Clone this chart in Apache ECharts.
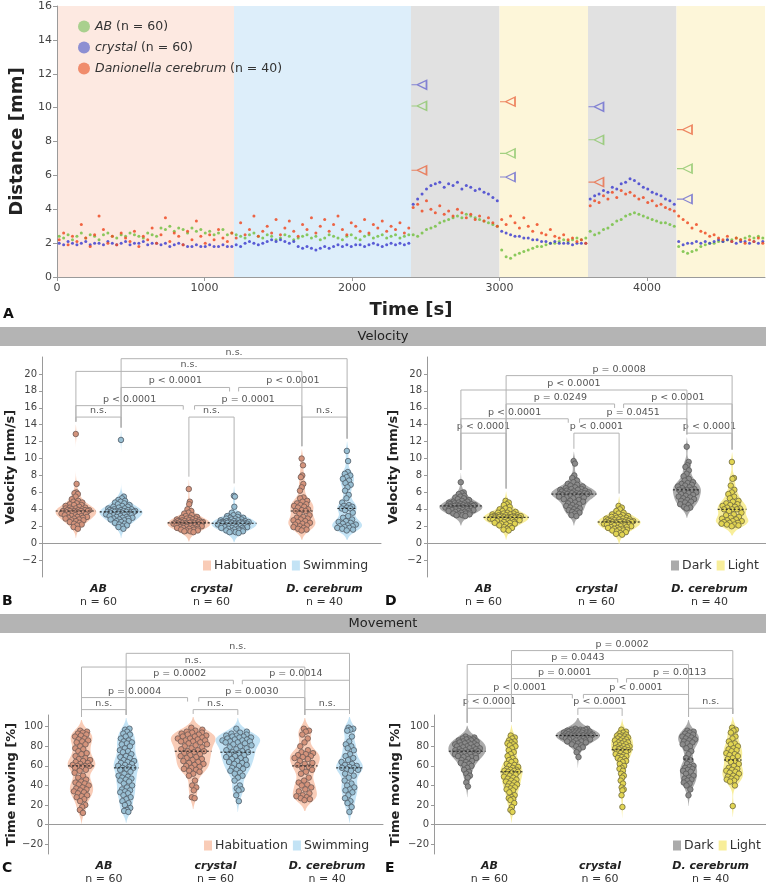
<!DOCTYPE html>
<html><head><meta charset="utf-8">
<script src="https://cdn.jsdelivr.net/npm/echarts@6.0.0/dist/echarts.min.js"></script>
<style>html,body{margin:0;padding:0;background:#fff;}#chart{width:766px;height:885px;}</style>
</head><body><div id="chart"></div>
<script>
// ================= DATA =================
// Panel A: mean distance per 30 s bin
const timeStep = 30;
const distAB = [
2.4,2.3,2.5,2.2,2.4,2.6,2.3,2.5,2.4,2.2, 2.5,2.6,2.4,2.3,2.5,2.4,2.6,2.5,2.4,2.3, 2.6,2.5,2.4,2.9,2.8,3.0,2.7,2.9,2.8,2.6, 2.9,2.7,2.8,2.6,2.7,2.5,2.6,2.8,2.5,2.6,
2.5,2.4,2.3,2.5,2.6,2.4,2.3,2.5,2.4,2.2, 2.3,2.5,2.4,2.2,2.3,2.4,2.5,2.3,2.4,2.2, 2.3,2.5,2.4,2.3,2.2,2.4,2.5,2.3,2.2,2.4, 2.5,2.3,2.4,2.5,2.3,2.4,2.5,2.3,2.4,2.5,
2.5,2.4,2.6,2.8,2.9,3.0,3.2,3.3,3.4,3.5, 3.6,3.5,3.7,3.6,3.5,3.4,3.3,3.2,3.1,3.0,
1.6,1.2,1.1,1.3,1.4,1.5,1.6,1.7,1.8,1.8, 1.9,2.0,2.0,2.1,2.2,2.1,2.2,2.3,2.2,2.3,
2.7,2.5,2.6,2.8,2.9,3.1,3.3,3.4,3.6,3.7, 3.8,3.7,3.6,3.5,3.4,3.3,3.2,3.2,3.1,3.0,
1.8,1.5,1.4,1.5,1.6,1.8,1.9,2.0,2.0,2.1, 2.1,2.2,2.2,2.3,2.2,2.3,2.4,2.3,2.4,2.3];
const distCrystal = [
2.0,1.9,2.1,2.0,1.9,2.0,2.1,1.9,2.0,2.0, 1.9,2.1,2.0,1.9,2.0,2.1,1.9,2.0,2.0,2.1, 1.9,2.0,2.0,1.9,2.0,1.8,1.9,2.0,1.9,1.8, 1.8,1.9,1.8,1.8,1.9,1.8,1.8,1.9,1.8,1.8,
1.9,1.8,2.0,2.1,2.0,1.9,2.0,2.1,2.2,2.1, 2.2,2.1,2.0,2.1,1.8,1.7,1.8,1.7,1.6,1.7, 1.8,1.7,1.8,1.9,1.8,1.9,1.8,1.9,1.9,1.8, 1.9,2.0,1.9,1.8,1.9,2.0,1.9,2.0,1.9,2.0,
4.3,4.6,4.9,5.2,5.4,5.5,5.6,5.3,5.5,5.4, 5.6,5.2,5.4,5.3,5.1,5.2,5.0,4.9,4.7,4.5,
2.7,2.6,2.5,2.4,2.4,2.3,2.3,2.2,2.2,2.1, 2.1,2.0,2.1,2.0,2.0,2.0,1.9,2.0,2.0,2.0,
4.6,4.8,4.9,5.1,5.0,5.3,5.2,5.5,5.6,5.8, 5.7,5.5,5.3,5.2,5.0,4.9,4.8,4.6,4.5,4.3,
2.1,1.9,2.0,2.0,2.1,2.0,2.1,2.0,2.1,2.2, 2.1,2.2,2.1,2.0,2.1,2.1,2.0,2.1,2.0,2.1];
const distDc = [
2.2,2.6,1.9,2.4,2.1,3.1,2.3,1.8,2.5,3.6, 2.8,2.0,2.4,1.9,2.6,2.3,2.1,2.7,1.8,2.4, 2.2,2.9,2.0,2.5,3.5,2.1,2.6,2.4,1.9,2.7, 2.2,3.3,2.4,2.0,2.5,2.2,2.8,2.3,2.1,2.6,
2.3,3.2,2.5,2.8,3.6,2.4,2.7,3.0,2.6,3.4, 2.5,2.9,3.3,2.7,2.4,3.1,2.8,3.5,2.6,3.0, 3.4,2.7,3.1,3.6,2.8,2.5,3.2,3.0,2.7,3.4, 2.6,3.1,2.9,3.3,2.7,3.0,2.8,3.2,2.6,2.9,
4.1,4.3,3.9,4.5,4.0,3.8,4.2,3.7,3.9,3.6, 4.0,3.8,3.5,3.7,3.4,3.6,3.3,3.5,3.2,3.0,
3.4,3.1,3.6,3.2,2.9,3.5,3.0,2.7,3.1,2.6, 2.5,2.8,2.4,2.3,2.5,2.2,2.3,2.1,2.2,2.0,
4.2,4.5,4.4,4.8,4.6,5.0,4.7,5.1,4.9,5.0, 4.8,4.6,4.7,4.4,4.5,4.2,4.3,4.1,4.0,3.9,
3.6,3.4,3.2,2.9,3.1,2.7,2.6,2.4,2.5,2.3, 2.2,2.4,2.1,2.3,2.2,2.0,2.2,2.1,2.3,2.0];
const phaseEdges = [0,1200,2400,3000,3600,4200,4800];
const stimTimes = [2400,3000,3600,4200];
const stimAB = [10.1,7.3,8.1,6.4];
const stimCrystal = [11.35,5.9,10.05,4.6];
const stimDc = [6.3,10.35,5.6,8.7];
const seriesNamesA = ['AB','crystal','Danionella cerebrum'];
const seriesNA = [60,60,40];

// Panels B-E
const categories = ['AB','crystal','D. cerebrum'];
const groupN = [60,60,40];

// Velocity [mm/s], habituation vs swimming
const velHabAB = [12.9,7.0,6.0,5.9,5.8,5.5,5.2,5.0,4.9,4.8,4.7,4.6,4.5,4.5,4.4,4.3,4.2,4.2,4.1,4.1,4.0,4.0,3.9,3.9,3.9,3.9,3.8,3.8,3.8,3.8,3.8,3.7,3.7,3.6,3.6,3.5,3.5,3.4,3.4,3.3,3.3,3.2,3.2,3.1,3.1,3.0,3.0,2.9,2.9,2.8,2.7,2.7,2.6,2.5,2.4,2.3,2.2,2.1,1.9,1.7];
const velSwimAB = [12.2,5.5,5.3,5.1,5.0,4.9,4.8,4.7,4.6,4.5,4.4,4.3,4.3,4.2,4.1,4.1,4.0,4.0,3.9,3.9,3.9,3.8,3.8,3.8,3.8,3.7,3.7,3.7,3.7,3.7,3.7,3.6,3.6,3.5,3.5,3.4,3.4,3.3,3.3,3.2,3.2,3.1,3.1,3.0,3.0,2.9,2.9,2.8,2.8,2.7,2.6,2.6,2.5,2.4,2.3,2.2,2.1,2.0,1.9,1.7];
const velHabCrystal = [6.4,4.9,4.6,4.0,3.8,3.6,3.5,3.3,3.2,3.1,3.0,3.0,2.9,2.9,2.8,2.8,2.7,2.7,2.7,2.6,2.6,2.6,2.5,2.5,2.5,2.5,2.4,2.4,2.4,2.4,2.4,2.4,2.3,2.3,2.3,2.3,2.2,2.2,2.2,2.1,2.1,2.1,2.0,2.0,2.0,1.9,1.9,1.9,1.8,1.8,1.8,1.7,1.7,1.6,1.6,1.5,1.5,1.4,1.4,1.3];
const velSwimCrystal = [5.6,5.5,4.3,3.6,3.4,3.3,3.2,3.1,3.0,3.0,2.9,2.9,2.8,2.8,2.7,2.7,2.6,2.6,2.6,2.5,2.5,2.5,2.5,2.4,2.4,2.4,2.4,2.4,2.4,2.4,2.3,2.3,2.3,2.3,2.2,2.2,2.2,2.1,2.1,2.1,2.0,2.0,2.0,1.9,1.9,1.9,1.8,1.8,1.8,1.7,1.7,1.6,1.6,1.5,1.5,1.4,1.4,1.3,1.3,1.2];
const velHabDc = [10.0,9.2,8.0,7.8,7.0,6.6,6.2,5.4,5.3,5.0,4.9,4.7,4.6,4.5,4.4,4.3,4.2,4.0,3.9,3.8,3.8,3.5,3.3,3.1,3.0,2.9,2.8,2.7,2.6,2.5,2.4,2.3,2.2,2.1,2.0,1.9,1.8,1.7,1.6,1.5];
const velSwimDc = [10.9,9.7,8.4,8.2,8.0,7.8,7.6,7.4,7.1,6.9,6.6,6.2,5.7,5.3,4.8,4.5,4.4,4.3,4.2,4.1,4.1,3.9,3.6,3.2,3.0,2.8,2.6,2.5,2.4,2.3,2.2,2.1,2.0,2.0,1.9,1.8,1.8,1.7,1.6,1.5];

// Velocity [mm/s], dark vs light
const velDarkAB = [7.2,6.0,5.9,5.8,5.6,5.5,5.4,5.3,5.2,5.1,5.0,4.9,4.9,4.8,4.8,4.7,4.7,4.6,4.6,4.6,4.5,4.5,4.5,4.5,4.4,4.4,4.4,4.4,4.4,4.4,4.4,4.3,4.3,4.3,4.2,4.2,4.2,4.1,4.1,4.1,4.0,4.0,4.0,3.9,3.9,3.9,3.8,3.8,3.8,3.7,3.7,3.6,3.6,3.5,3.5,3.4,3.4,3.3,3.3,3.2];
const velLightAB = [5.0,4.8,4.6,4.5,4.3,4.1,4.0,3.9,3.8,3.7,3.6,3.6,3.5,3.5,3.4,3.4,3.3,3.3,3.3,3.2,3.2,3.2,3.2,3.1,3.1,3.1,3.1,3.1,3.1,3.1,3.0,3.0,3.0,3.0,2.9,2.9,2.9,2.9,2.8,2.8,2.8,2.7,2.7,2.7,2.6,2.6,2.5,2.5,2.4,2.4,2.3,2.3,2.2,2.1,2.0,1.9,1.8,1.7,1.6,1.5];
const velDarkCrystal = [9.7,9.4,8.0,7.7,7.4,7.2,7.0,6.9,6.8,6.7,6.6,6.5,6.4,6.4,6.3,6.3,6.2,6.2,6.1,6.1,6.0,6.0,6.0,5.9,5.9,5.9,5.9,5.8,5.8,5.8,5.8,5.7,5.7,5.6,5.6,5.5,5.5,5.4,5.4,5.3,5.2,5.1,5.0,4.9,4.8,4.7,4.6,4.5,4.4,4.3,4.2,4.1,4.0,3.9,3.8,3.7,3.6,3.5,3.3,3.2];
const velLightCrystal = [4.4,4.2,4.0,3.8,3.6,3.5,3.4,3.3,3.2,3.2,3.1,3.1,3.0,3.0,2.9,2.9,2.8,2.8,2.8,2.7,2.7,2.7,2.6,2.6,2.6,2.6,2.5,2.5,2.5,2.5,2.5,2.5,2.4,2.4,2.4,2.3,2.3,2.3,2.2,2.2,2.2,2.1,2.1,2.0,2.0,1.9,1.9,1.8,1.8,1.7,1.7,1.6,1.6,1.5,1.5,1.4,1.3,1.2,1.1,1.0];
const velDarkDc = [11.4,9.6,9.2,9.0,8.6,8.2,7.9,7.6,7.4,7.2,7.1,7.0,6.9,6.8,6.7,6.6,6.5,6.4,6.3,6.3,6.3,6.2,6.0,5.9,5.8,5.7,5.6,5.5,5.4,5.3,5.2,5.1,5.0,4.9,4.8,4.6,4.5,4.3,4.2,4.1];
const velLightDc = [9.6,7.7,7.6,6.8,6.3,6.0,5.8,5.5,5.3,5.0,4.9,4.7,4.6,4.5,4.4,4.3,4.2,4.1,4.0,4.0,4.0,3.8,3.6,3.4,3.3,3.1,3.0,2.9,2.8,2.7,2.6,2.6,2.5,2.4,2.4,2.3,2.2,2.2,2.1,2.0];

// Time moving [%], habituation vs swimming
const movHabAB = [96,95,94,93,92,91,90,88,87,86,85,84,82,80,78,77,75,73,72,70,68,67,66,65,64,63,62,61,60,60,60,59,58,56,55,53,50,48,46,44,43,42,41,40,38,37,36,35,34,33,32,30,29,28,26,24,20,18,15,12];
const movSwimAB = [97,98,95,93,92,90,88,86,85,84,83,82,80,78,76,75,74,72,70,69,68,66,65,64,63,62,61,60,59,58,58,57,56,54,52,50,49,48,47,46,45,44,42,40,38,36,35,34,33,32,30,28,26,24,22,20,17,15,14,13];
const movHabCrystal = [99,97,96,95,94,94,93,92,92,91,90,90,89,88,88,87,86,86,85,85,84,83,82,81,80,79,78,77,76,75,75,74,73,72,71,70,69,68,67,66,65,64,63,62,61,60,59,58,57,56,55,54,52,50,45,40,38,35,28,27];
const movSwimCrystal = [98,95,94,93,92,91,91,90,90,89,89,88,87,87,86,86,85,85,84,84,83,82,81,80,79,78,77,76,75,74,74,73,72,71,70,69,68,67,66,65,64,63,62,61,60,58,57,56,55,53,52,50,48,45,40,37,36,35,30,24];
const movHabDc = [98,96,95,92,88,84,80,76,74,73,72,71,70,69,68,67,65,63,62,61,59,58,56,54,52,48,45,43,41,40,38,36,34,32,30,29,28,27,26,25];
const movSwimDc = [99,98,97,96,90,85,82,80,78,76,72,70,68,66,64,62,61,60,59,58,58,57,56,55,52,50,48,45,42,40,38,36,35,33,30,27,24,22,18,13];

// Time moving [%], dark vs light
const movDarkAB = [90,89,88,88,87,87,86,86,85,85,84,84,83,83,82,82,81,81,80,80,79,79,78,78,77,77,76,76,75,75,75,74,74,73,73,72,72,71,71,70,70,69,69,68,67,66,65,64,63,62,61,60,58,56,54,52,50,48,43,39];
const movLightAB = [91,89,88,86,85,84,83,82,81,80,78,76,74,72,70,68,66,65,64,62,61,60,59,58,57,56,56,55,55,54,54,53,52,51,50,49,48,47,46,45,44,43,42,41,40,39,38,37,36,35,33,30,28,27,26,25,22,18,15,13];
const movDarkCrystal = [98,98,97,97,97,96,96,96,95,95,95,95,94,94,94,94,93,93,93,93,92,92,92,92,92,91,91,91,91,91,91,91,90,90,90,90,89,89,89,89,88,88,88,87,87,87,86,86,85,85,84,84,83,82,81,80,79,77,74,69];
const movLightCrystal = [97,95,94,93,92,91,91,90,90,89,88,88,87,86,86,85,84,84,83,82,82,81,80,80,79,79,78,78,77,77,76,75,75,74,73,72,71,70,70,69,68,67,66,65,64,62,60,58,57,55,52,50,48,45,42,38,36,35,30,18];
const movDarkDc = [96,95,94,93,92,91,90,89,88,87,86,85,84,83,82,80,78,75,72,68,66,62,60,59,58,57,56,55,54,52,50,48,47,46,45,43,42,40,36,30];
const movLightDc = [99,97,96,94,90,88,85,83,82,80,78,77,76,75,73,72,71,70,68,67,65,64,62,60,58,57,56,55,54,53,52,50,49,48,47,46,45,44,40,19];

// p-values (order: AB, crystal, D.c. within-genotype; then between-genotype comparisons)
const pVelHabSwim = ['n.s.','n.s.','n.s.','p < 0.0001','p = 0.0001','p < 0.0001','p < 0.0001','n.s.','n.s.'];
const pVelDarkLight = ['p < 0.0001','p < 0.0001','p < 0.0001','p < 0.0001','p = 0.0451','p = 0.0249','p < 0.0001','p < 0.0001','p = 0.0008'];
const pMovHabSwim = ['n.s.','n.s.','n.s.','p = 0.0004','p = 0.0030','p = 0.0002','p = 0.0014','n.s.','n.s.'];
const pMovDarkLight = ['p < 0.0001','p < 0.0001','n.s.','p < 0.0001','p < 0.0001','p = 0.0001','p = 0.0113','p = 0.0443','p = 0.0002'];

// ================= LAYOUT / STYLE =================
const FONT = 'DejaVu Sans';
const AX = '#9a9a9a';
const phaseColors = ['#fde9e1','#ddeefa','#e1e1e1','#fdf6d9','#e1e1e1','#fdf6d9'];
const colA = ['#76c144','#4141cf','#ee4b24'];
const colALegend = ['#a9d08e','#8d8fd2','#f08c6c'];
const colAStim = ['#8cc76a','#6a6ad0','#ea6a44'];
const STY = {
  Habituation:{fill:'#f9ccb7', dot:'#d4937b', border:'#6e5a55'},
  Swimming:{fill:'#c3e3f5', dot:'#98bfd3', border:'#4f5b66'},
  Dark:{fill:'#ababab', dot:'#8a8a8a', border:'#595959'},
  Light:{fill:'#f8ee9a', dot:'#e2d552', border:'#6f6840'}
};
const bracketPairs = [[0,1],[2,3],[4,5],[0,2],[2,4],[1,3],[3,5],[0,4],[1,5]];
const bracketLevelIdx = [0,0,0,1,1,2,2,3,4];
const bracketShift = [[0,0],[0,0],[0,0],[0,-0.05],[0.05,0],[0,-0.04],[0.04,0],[0,0],[0,0]];
const MAXHALF = 0.2; // max half-width of a violin (x units)

// relative violin widths as drawn (slot order: AB c0, AB c1, crystal c0, crystal c1, D.c. c0, D.c. c1)
const panels = [
  {grid:{left:42,top:357,width:339,height:220}, ymin:-4, ymax:22, ticks:[-2,0,2,4,6,8,10,12,14,16,18,20],
   yname:'Velocity [mm/s]', nameGap:25, levels:[14.9,16.25,18.4,20.3,21.8], pvals:pVelHabSwim, bw:0.55,
   widths:[0.9,0.95,0.95,1.0,0.6,0.66],
   conds:[{name:'Habituation', groups:[velHabAB,velHabCrystal,velHabDc]},{name:'Swimming', groups:[velSwimAB,velSwimCrystal,velSwimDc]}],
   legendPos:{left:198, top:554}},
  {grid:{left:427,top:357,width:339,height:220}, ymin:-4, ymax:22, ticks:[-2,0,2,4,6,8,10,12,14,16,18,20],
   yname:'Velocity [mm/s]', nameGap:27, levels:[13.0,14.7,16.45,18.1,19.8], pvals:pVelDarkLight, bw:0.55,
   widths:[0.95,1.0,1.0,0.95,0.62,0.72],
   conds:[{name:'Dark', groups:[velDarkAB,velDarkCrystal,velDarkDc]},{name:'Light', groups:[velLightAB,velLightCrystal,velLightDc]}],
   legendPos:{left:666, top:554}},
  {grid:{left:48,top:715,width:335,height:141}, ymin:-30, ymax:112, ticks:[-20,0,20,40,60,80,100],
   yname:'Time moving [%]', nameGap:30, levels:[117.5,129.8,147.5,161,175], pvals:pMovHabSwim, bw:5.5,
   widths:[0.62,0.56,1.0,1.0,0.67,0.6],
   conds:[{name:'Habituation', groups:[movHabAB,movHabCrystal,movHabDc]},{name:'Swimming', groups:[movSwimAB,movSwimCrystal,movSwimDc]}],
   legendPos:{left:199, top:834}},
  {grid:{left:434,top:715,width:332,height:141}, ymin:-30, ymax:112, ticks:[-20,0,20,40,60,80,100],
   yname:'Time moving [%]', nameGap:32, levels:[118.9,133,149.2,163.6,177.8], pvals:pMovDarkLight, bw:5.5,
   widths:[0.85,0.5,1.0,0.5,0.47,0.47],
   conds:[{name:'Dark', groups:[movDarkAB,movDarkCrystal,movDarkDc]},{name:'Light', groups:[movLightAB,movLightCrystal,movLightDc]}],
   legendPos:{left:668, top:834}}
];

// ================= HELPERS =================
function violinStats(vals, bw){
  const n = vals.length;
  const so=[...vals].sort((a,b)=>a-b);
  const lo = so[0]-2*bw, hi = so[n-1]+2*bw;
  const ys=[], ds=[], M=160;
  for(let i=0;i<=M;i++){
    const y = lo+(hi-lo)*i/M; let s=0;
    for(const v of vals){const z=(y-v)/bw; s+=Math.exp(-0.5*z*z);}
    ys.push(y); ds.push(s);
  }
  const mx = Math.max(...ds);
  const med = n%2 ? so[(n-1)/2] : (so[n/2-1]+so[n/2])/2;
  return {ys, ds:ds.map(d=>d/mx), lo, hi, med};
}
function densAt(st,y){
  if(y<=st.lo||y>=st.hi) return 0;
  const t=(y-st.lo)/(st.hi-st.lo)*(st.ys.length-1); const i=Math.floor(t), f=t-i;
  return st.ds[i]*(1-f)+st.ds[Math.min(i+1,st.ds.length-1)]*f;
}
const axisFont = {fontFamily:FONT, fontSize:10, color:'#444'};
const nameFont = (sz)=>({fontFamily:FONT, fontWeight:'bold', fontSize:sz, color:'#222'});

// ================= BUILD =================
const grid=[], xAxis=[], yAxis=[], series=[], legend=[];

// ---- Panel A ----
grid.push({left:55, top:6, width:710, height:271});
xAxis.push({type:'value', gridIndex:0, min:0, max:4800, interval:1000, name:'Time [s]', nameLocation:'middle', nameGap:24,
  nameTextStyle:nameFont(18), axisLine:{lineStyle:{color:AX}}, axisTick:{length:4,lineStyle:{color:AX}},
  axisLabel:{showMaxLabel:false, formatter:v=>String(v), fontFamily:FONT, fontSize:11, color:'#444', margin:6}, splitLine:{show:false}});
yAxis.push({type:'value', gridIndex:0, min:0, max:16, interval:2, name:'Distance [mm]', nameLocation:'middle', nameGap:31,
  nameTextStyle:nameFont(18), axisLine:{show:true, lineStyle:{color:AX}}, axisTick:{show:true,length:4,lineStyle:{color:AX}},
  axisLabel:{fontFamily:FONT, fontSize:11, color:'#444', margin:5}, splitLine:{show:false}});

series.push({type:'custom', name:'phases', xAxisIndex:0, yAxisIndex:0, silent:true, z:0,
  data: phaseEdges.slice(0,-1).map((t,i)=>[t, phaseEdges[i+1]]),
  renderItem:(p,api)=>{const a=api.coord([api.value(0),16]); const b=api.coord([api.value(1),0]);
    return {type:'rect', shape:{x:a[0],y:a[1],width:b[0]-a[0],height:b[1]-a[1]}, style:{fill:phaseColors[p.dataIndex]}};}});

[distAB, distCrystal, distDc].forEach((arr,k)=>{
  series.push({type:'scatter', name:seriesNamesA[k], xAxisIndex:0, yAxisIndex:0, symbolSize:3, z:2,
    itemStyle:{color:colA[k], opacity:0.85}, silent:true,
    data: arr.map((v,i)=>[i*timeStep+timeStep/2, v])});
});
[stimAB, stimCrystal, stimDc].forEach((arr,k)=>{
  series.push({type:'scatter', name:'stim'+k, xAxisIndex:0, yAxisIndex:0, z:3, silent:true,
    symbol:'path://M0,5L6,5M6,5L16,0L16,10Z', symbolSize:[15,9], symbolOffset:[8,0],
    itemStyle:{color:'rgba(0,0,0,0)', borderColor:colAStim[k], borderWidth:1.4},
    data: stimTimes.map((t,i)=>[t, arr[i]])});
});
legend.push({orient:'vertical', left:73, top:15, itemGap:8, icon:'circle', itemWidth:12, itemHeight:12, selectedMode:false,
  data: seriesNamesA.map((n,k)=>({name:n, itemStyle:{color:colALegend[k], opacity:1}})),
  formatter: name=>`{i|${name}} (n = ${seriesNA[seriesNamesA.indexOf(name)]})`,
  textStyle:{fontFamily:FONT, fontSize:12.5, color:'#333', rich:{i:{fontFamily:FONT, fontSize:12.5, fontStyle:'italic', color:'#333'}}}});

// ---- Violin panels ----
panels.forEach((P,k)=>{
  const gi = k+1;
  grid.push(P.grid);
  xAxis.push({type:'category', gridIndex:gi, data:categories, boundaryGap:true,
    axisLine:{lineStyle:{color:AX}}, axisTick:{show:false},
    axisLabel:{margin:6, interval:0, formatter:(v,i)=>`{b|${v}}\n{n|n = ${groupN[i]}}`,
      rich:{b:{fontFamily:FONT, fontWeight:'bold', fontStyle:'italic', fontSize:11, color:'#222', lineHeight:13},
            n:{fontFamily:FONT, fontSize:11, color:'#333', lineHeight:13}}}});
  const valIdx = xAxis.length;
  xAxis.push({type:'value', gridIndex:gi, min:0.5, max:3.5, show:false});
  const yIdx = yAxis.length;
  yAxis.push({type:'value', gridIndex:gi, min:P.ymin, max:P.ymax, name:P.yname, nameLocation:'middle', nameGap:P.nameGap,
    nameTextStyle:nameFont(13), axisLine:{show:true, lineStyle:{color:AX}},
    axisTick:{show:true, length:3, lineStyle:{color:AX}, customValues:P.ticks},
    axisLabel:{...axisFont, margin:5, customValues:P.ticks, formatter:v=>String(v).replace('-','\u2212')}, splitLine:{show:false}});

  const stats = P.conds.map(c=>c.groups.map(g=>violinStats(g, P.bw)));
  const cxOf = (c,g)=> g+1+(c===0?-0.2:0.2);
  const wf = (c,g)=> P.widths[g*2+c]*MAXHALF;
  const hw = (c,g,y)=> densAt(stats[c][g],y)*wf(c,g);

  P.conds.forEach((C,c)=>{
    const st = STY[C.name];
    series.push({type:'custom', name:C.name, xAxisIndex:valIdx, yAxisIndex:yIdx, z:2, silent:true,
      itemStyle:{color:st.fill},
      data:[0,1,2].map(g=>[cxOf(c,g), stats[c][g].med]),
      renderItem:(p,api)=>{
        const g=p.dataIndex, S=stats[c][g], cx=cxOf(c,g), W=wf(c,g);
        const R=[], L=[];
        S.ys.forEach((y,i)=>{const w=S.ds[i]*W; R.push(api.coord([cx+w,y])); L.push(api.coord([cx-w,y]));});
        return {type:'polygon', shape:{points:R.concat(L.reverse())}, style:{fill:st.fill}};
      }});
  });
  P.conds.forEach((C,c)=>{
    const st = STY[C.name];
    const pts = [];
    C.groups.forEach((arr,g)=>{
      arr.forEach((v,i)=>{
        const f = ((i*0.6180339887+0.37)%1)-0.5;
        pts.push([cxOf(c,g)+f*2*0.72*hw(c,g,v), v]);
      });
    });
    series.push({type:'scatter', name:C.name+' points', xAxisIndex:valIdx, yAxisIndex:yIdx, z:3, silent:true,
      symbolSize:5.5, itemStyle:{color:st.dot, borderColor:st.border, borderWidth:0.8, opacity:1}, data:pts});
  });
  // medians
  const medData=[]; P.conds.forEach((C,c)=>[0,1,2].forEach(g=>medData.push([c,g])));
  series.push({type:'custom', name:'median'+k, xAxisIndex:valIdx, yAxisIndex:yIdx, z:4, silent:true,
    data:medData, renderItem:(p,api)=>{
      const c=medData[p.dataIndex][0], g=medData[p.dataIndex][1]; const m=stats[c][g].med, cx=cxOf(c,g), w=hw(c,g,m);
      const a=api.coord([cx-w,m]), b=api.coord([cx+w,m]);
      return {type:'line', shape:{x1:a[0],y1:a[1],x2:b[0],y2:b[1]}, style:{stroke:'#222', lineWidth:1.1, lineDash:[2,2]}};
    }});
  // brackets
  series.push({type:'custom', name:'brackets'+k, xAxisIndex:valIdx, yAxisIndex:yIdx, z:5, silent:true, clip:false,
    data:bracketPairs.map((b,i)=>[i]), renderItem:(p,api)=>{
      const i=p.dataIndex; const [s1,s2]=bracketPairs[i]; const lev=P.levels[bracketLevelIdx[i]];
      const sh=bracketShift[i];
      const slot=(s)=>({c:s%2, g:Math.floor(s/2)});
      const A=slot(s1), B=slot(s2);
      const xa=cxOf(A.c,A.g)+sh[0], xb=cxOf(B.c,B.g)+sh[1];
      const pa=api.coord([xa,lev]), pb=api.coord([xb,lev]);
      const botA = sh[0]===0 ? api.coord([xa, stats[A.c][A.g].hi])[1]-3 : pa[1]+4;
      const botB = sh[1]===0 ? api.coord([xb, stats[B.c][B.g].hi])[1]-3 : pb[1]+4;
      return {type:'group', children:[
        {type:'polyline', shape:{points:[[pa[0],botA],[pa[0],pa[1]],[pb[0],pb[1]],[pb[0],botB]]}, style:{stroke:'#b3b3b3', lineWidth:1, fill:null}},
        {type:'text', x:(pa[0]+pb[0])/2, y:pa[1]-1.5, style:{text:P.pvals[i], align:'center', verticalAlign:'bottom', fontFamily:FONT, fontSize:9.5, fill:'#555'}}
      ]};
    }});
  legend.push({orient:'horizontal', left:P.legendPos.left, top:P.legendPos.top, icon:'rect', itemWidth:8, itemHeight:10, itemGap:5,
    selectedMode:false, data:P.conds.map(C=>({name:C.name, itemStyle:{color:STY[C.name].fill}})),
    textStyle:{fontFamily:FONT, fontSize:12.5, color:'#333', padding:[0,0,0,-2]}});
});

const letter=(t,x,y)=>({type:'text', x, y, style:{text:t, fontFamily:FONT, fontWeight:'bold', fontSize:14, fill:'#111', verticalAlign:'middle'}});
const graphic = [
  {type:'rect', x:0, y:327, shape:{width:766, height:19}, style:{fill:'#b4b4b4'}},
  {type:'text', x:383, y:337, style:{text:'Velocity', align:'center', verticalAlign:'middle', fontFamily:FONT, fontSize:13, fill:'#222'}},
  {type:'rect', x:0, y:614, shape:{width:766, height:19}, style:{fill:'#b4b4b4'}},
  {type:'text', x:383, y:624, style:{text:'Movement', align:'center', verticalAlign:'middle', fontFamily:FONT, fontSize:13, fill:'#222'}},
  letter('A',3,314), letter('B',2,601), letter('D',385,601), letter('C',2,868), letter('E',385,868)
];

const chart = echarts.init(document.getElementById('chart'));
chart.setOption({animation:false, backgroundColor:'#fff', grid, xAxis, yAxis, series, legend, graphic});
</script></body></html>
